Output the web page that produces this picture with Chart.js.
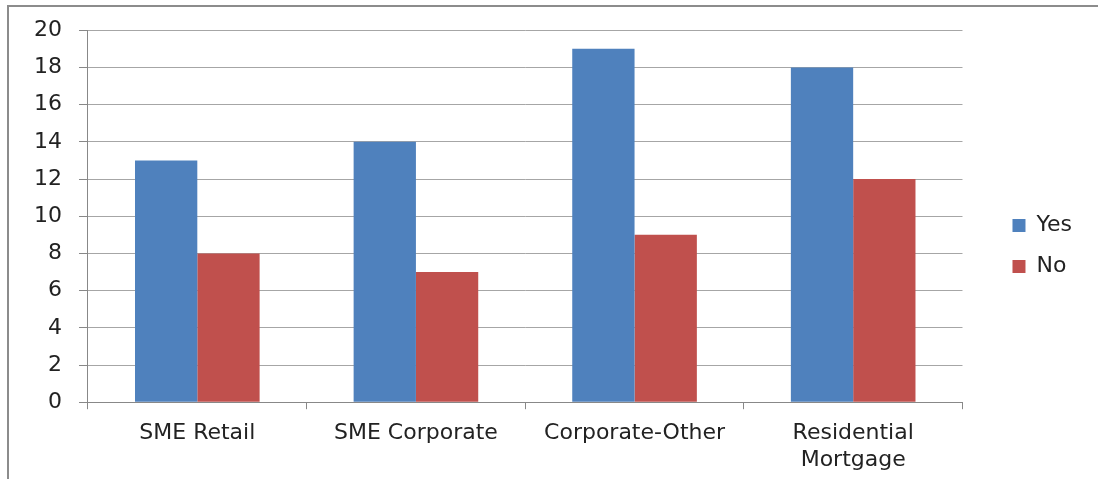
<!DOCTYPE html>
<html>
<head>
<meta charset="utf-8">
<script src="https://cdn.jsdelivr.net/npm/chart.js@4/dist/chart.umd.min.js"></script>
<style>
  body { margin: 0; background: #fff; }
  #wrap { position: relative; width: 1098px; height: 479px; }
  #frame { position: absolute; left: 7px; top: 5px; right: 0; bottom: -4px;
           border-top: 2px solid #8c8c8c; border-left: 2px solid #8c8c8c; }
  canvas { position: absolute; left: 0; top: 0; }
</style>
</head>
<body>
<div id="wrap">
  <div id="frame"></div>
  <canvas id="myChart" width="1098" height="479"></canvas>
</div>
<script>
const categories = ['SME Retail', 'SME Corporate', 'Corporate-Other', ['Residential', 'Mortgage']];
const yesValues = [13, 14, 19, 18];
const noValues = [8, 7, 9, 12];
const yTicks = [0, 2, 4, 6, 8, 10, 12, 14, 16, 18, 20];

const gridColor = '#a6a6a6';
const labelFont = { family: '"DejaVu Sans", sans-serif', size: 22 };

// nudge the legend further right / up than Chart.js places it
const legendShift = {
  id: 'legendShift',
  afterLayout: (chart) => {
    const lg = chart.legend;
    lg.left += 31; lg.right += 31;
    lg.top -= 7; lg.bottom -= 7;
  }
};

const context = document.getElementById('myChart');
const myChart = new Chart(context, {
  type: 'bar',
  data: {
    labels: categories,
    datasets: [
      { label: 'Yes', data: yesValues, backgroundColor: '#4f81bd', borderWidth: 0 },
      { label: 'No', data: noValues, backgroundColor: '#c0504d', borderWidth: 0 }
    ]
  },
  options: {
    responsive: false,
    animation: false,
    devicePixelRatio: 1,
    layout: { padding: { left: 17, top: 22, right: 47, bottom: -5 } },
    datasets: { bar: { categoryPercentage: 0.57, barPercentage: 1.0 } },
    scales: {
      x: {
        grid: { display: true, drawOnChartArea: false, drawTicks: true, tickLength: 7, color: '#888', offset: true },
        border: { display: true, color: '#888', width: 1 },
        ticks: { color: '#222', font: labelFont, padding: 11, maxRotation: 0 }
      },
      y: {
        min: 0, max: 20,
        afterBuildTicks: (axis) => { axis.ticks = yTicks.map(v => ({ value: v })); },
        grid: { color: gridColor, tickLength: 9, tickColor: '#888' },
        border: { display: true, color: '#888', width: 1 },
        ticks: { color: '#222', font: labelFont, padding: 17 }
      }
    },
    plugins: {
      legend: {
        position: 'right',
        align: 'center',
        labels: {
          boxWidth: 13, boxHeight: 13, padding: 19,
          color: '#222', font: labelFont
        }
      },
      tooltip: { enabled: false }
    }
  },
  plugins: [legendShift]
});
</script>
</body>
</html>
